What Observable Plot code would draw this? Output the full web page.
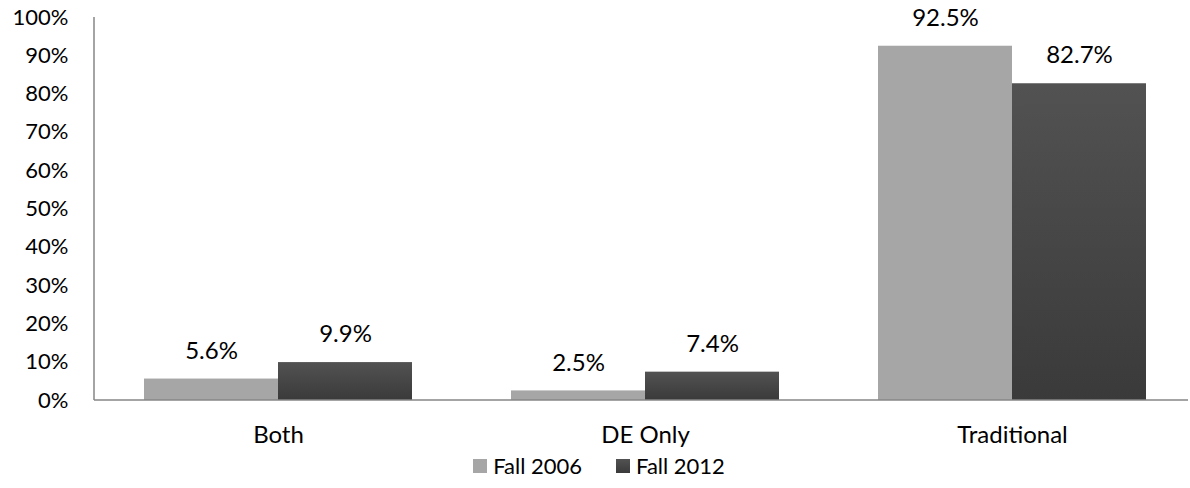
<!DOCTYPE html>
<html>
<head>
<meta charset="utf-8">
<script src="https://cdn.jsdelivr.net/npm/d3@7"></script>
<script src="https://cdn.jsdelivr.net/npm/@observablehq/plot@0.6"></script>
<style>
  html, body { margin: 0; padding: 0; background: #fff; }
  body { width: 1190px; font-family: Lato, "Liberation Sans", sans-serif; overflow: hidden; }
  #legend { display: flex; justify-content: center; align-items: center; gap: 34px; font-size: 22px; color: #000; margin-top: 4px; padding-left: 8px; }
  .item { display: flex; align-items: center; gap: 6px; }
  .sw { width: 14px; height: 14px; display: inline-block; }
</style>
</head>
<body>
<div id="chart"></div>
<div id="legend"></div>
<script>
const categories = ["Both", "DE Only", "Traditional"];
const series = ["Fall 2006", "Fall 2012"];
const fall2006 = [0.056, 0.025, 0.925];
const fall2012 = [0.099, 0.074, 0.827];
const yTicks = [0, 0.1, 0.2, 0.3, 0.4, 0.5, 0.6, 0.7, 0.8, 0.9, 1.0];
const colors = ["#a6a6a6", "url(#darkGrad)"];
const legendColors = ["#a6a6a6", "#474747"];

const data = [];
categories.forEach((c, i) => {
  data.push({category: c, series: series[0], value: fall2006[i]});
  data.push({category: c, series: series[1], value: fall2012[i]});
});

const fmt = d3.format(".1%");

const plot = Plot.plot({
  width: 1190,
  height: 448,
  marginLeft: 94,
  marginRight: -6,
  marginTop: 17,
  marginBottom: 48,
  style: {fontFamily: "Lato, 'Liberation Sans', sans-serif", fontSize: "24px", color: "#000", background: "#fff", overflow: "visible"},
  fx: {domain: categories, label: null, axis: "bottom", tickSize: 0, tickPadding: 25, paddingInner: 0.27, paddingOuter: 0.135},
  x: {domain: series, axis: null, padding: 0},
  y: {domain: [0, 1], ticks: yTicks, tickFormat: d3.format(".0%"), label: null, tickSize: 0, tickPadding: 76},
  color: {domain: series, range: colors},
  marks: [
    Plot.barY(data, {fx: "category", x: "series", y: "value", fill: "series", inset: 0}),
    Plot.text(data, {fx: "category", x: "series", y: "value", text: d => fmt(d.value), dy: -28, fill: "#000", fontSize: 24})
  ]
});

const svg = d3.select(plot);
svg.selectAll("g[aria-label='y-axis tick label'] text, g[aria-label='y-axis'] text").style("font-size", "22px");
const defs = svg.insert("defs", ":first-child");
const g = defs.append("linearGradient").attr("id", "darkGrad").attr("x1", 0).attr("y1", 0).attr("x2", 0).attr("y2", 1);
g.append("stop").attr("offset", "0%").attr("stop-color", "#525252");
g.append("stop").attr("offset", "100%").attr("stop-color", "#3a3a3a");

const yScale = plot.scale("y");
const y0 = yScale.apply(0);
const y1 = yScale.apply(1);
svg.append("line").attr("x1", 94).attr("x2", 1188).attr("y1", y0).attr("y2", y0)
  .attr("stroke", "#868686").attr("stroke-width", 1.5);
svg.append("line").attr("x1", 94).attr("x2", 94).attr("y1", y1).attr("y2", y0)
  .attr("stroke", "#868686").attr("stroke-width", 1.5);

document.getElementById("chart").appendChild(plot);

const legend = document.getElementById("legend");
series.forEach((s, i) => {
  const item = document.createElement("div");
  item.className = "item";
  const sw = document.createElement("span");
  sw.className = "sw";
  sw.style.background = i === 0 ? legendColors[0] : "linear-gradient(#525252, #3a3a3a)";
  item.appendChild(sw);
  const t = document.createElement("span");
  t.textContent = s;
  item.appendChild(t);
  legend.appendChild(item);
});
</script>
</body>
</html>
